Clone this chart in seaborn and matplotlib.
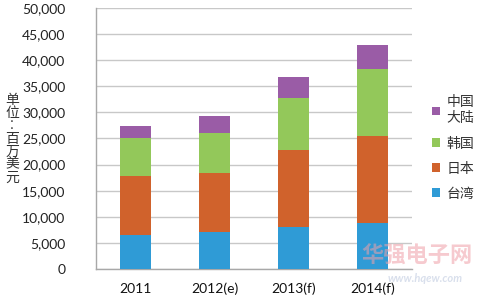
import matplotlib
matplotlib.use("Agg")
import matplotlib.pyplot as plt
import seaborn as sns
import pandas as pd
import numpy as np
from matplotlib.patches import Patch

years = ["2011", "2012(e)", "2013(f)", "2014(f)"]
taiwan = [6500, 7100, 8100, 8900]
japan = [11300, 11300, 14700, 16600]
korea = [7200, 7600, 10000, 12800]
china = [2400, 3400, 4000, 4700]

series_names = ["台湾", "日本", "韩国", "中国\n大陆"]
series_vals = [taiwan, japan, korea, china]
colors = ["#2f9bd6", "#d0622c", "#93c85a", "#9a5ca6"]

sns.set_theme(style="white")
plt.rcParams['font.family'] = ['Lato', 'Noto Sans CJK SC', 'DejaVu Sans']

fig = plt.figure(figsize=(4.83, 3.0), dpi=100)
ax = fig.add_axes([96/483, 31/300, 316/483, 261/300])

cum = np.cumsum(np.array(series_vals), axis=0)
df = pd.DataFrame({"year": years})
# draw tallest cumulative first so lower segments overlay
for i in range(len(series_vals) - 1, -1, -1):
    df["v"] = cum[i]
    sns.barplot(data=df, x="year", y="v", color=colors[i], width=0.405,
                saturation=1, ax=ax, zorder=3, linewidth=0)

ax.set_ylim(0, 50000)
ax.set_xlim(-0.5, 3.5)
ax.set_yticks(np.arange(0, 50001, 5000))
ax.set_yticklabels([f"{v:,}" for v in range(0, 50001, 5000)], fontsize=10, color="#222222")
ax.set_xticks(range(4))
ax.set_xticklabels(years, fontsize=10, color="#111111")
ax.set_xlabel("")
ax.set_ylabel("")
ax.yaxis.grid(True, color="#c8c8c8", linewidth=1, zorder=0)
ax.set_axisbelow(True)
for s in ["top", "right"]:
    ax.spines[s].set_visible(False)
for s in ["left", "bottom"]:
    ax.spines[s].set_color("#a8a8a8")
    ax.spines[s].set_linewidth(1)
ax.tick_params(axis="y", length=0, pad=22)
ax.tick_params(axis="x", length=0, pad=10)
ax.set_xticks([0.5, 1.5, 2.5], minor=True)
ax.tick_params(axis="x", which="minor", length=4, direction="in", color="#a8a8a8")

# vertical unit label
fig.text(12/483, 1 - 139/300, "单\n位\n︰\n百\n万\n美\n元", fontsize=10,
         family=['Noto Sans CJK SC', 'DejaVu Sans'], color="#333333",
         ha="center", va="center", linespacing=0.9)

handles = [Patch(facecolor=colors[i], edgecolor="none") for i in range(3, -1, -1)]
labels = [series_names[i] for i in range(3, -1, -1)]
leg = fig.legend(handles, labels, loc="center left", bbox_to_anchor=(432/483, 1 - 148/300),
                 frameon=False, borderpad=0, borderaxespad=0,
                 handlelength=0.6, handleheight=0.6, handletextpad=0.45,
                 labelspacing=0.8, prop={"family": ['Noto Sans CJK SC', 'DejaVu Sans'], "size": 10})
for t in leg.get_texts():
    t.set_color("#333333")

# watermark
fig.text(417/483, 1 - 256/300, "华强电子网", fontsize=16, color="#f0a0a8", alpha=0.55,
         family=['Noto Sans CJK SC'], weight="bold", ha="center", va="center")
fig.text(425/483, 1 - 278/300, "www.hqew.com", fontsize=8, color="#c0cbe0", alpha=0.6,
         style="italic", weight="bold", ha="center", va="center")

fig.savefig("out.png", dpi=100)
